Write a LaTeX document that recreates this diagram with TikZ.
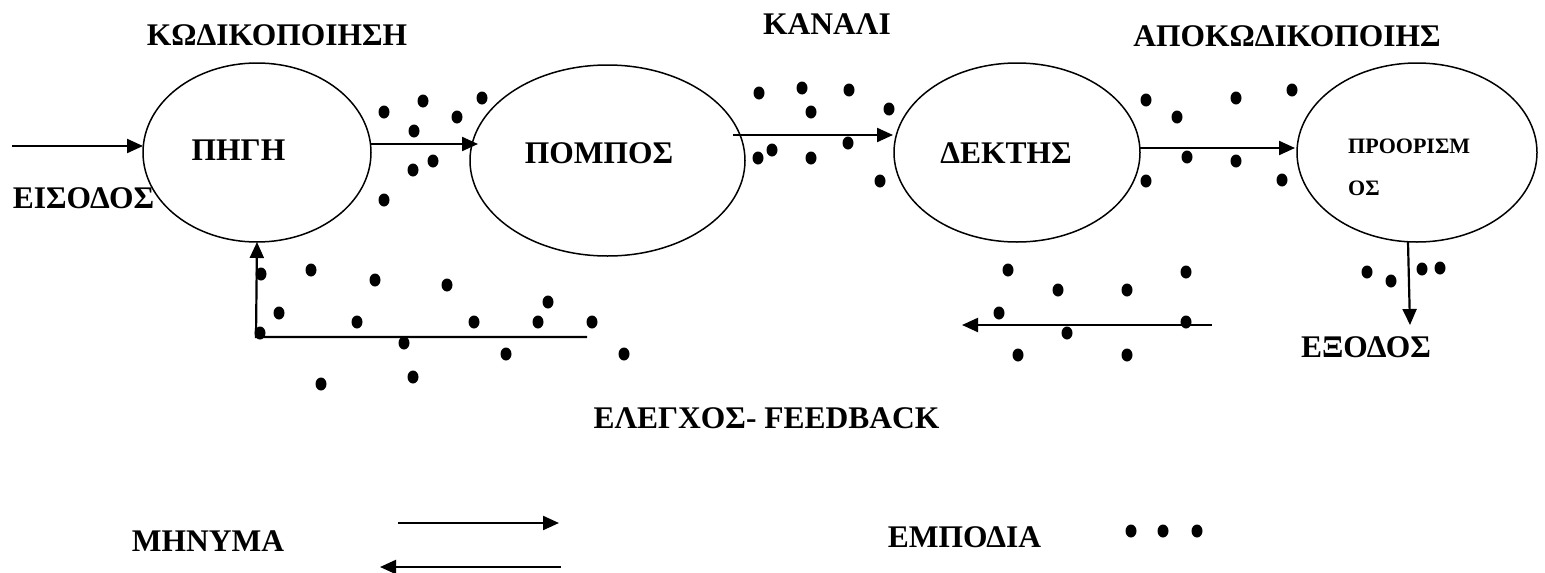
\documentclass[tikz,border=0pt]{standalone}
\usepackage{fontspec}
\setmainfont{Liberation Serif}
\usetikzlibrary{arrows.meta,shapes.geometric}
\tikzset{
  oval/.style={draw, ellipse, line width=1.5pt, inner sep=0pt, outer sep=0pt},
  lbl/.style={font=\bfseries\fontsize{31.5}{31.5}\selectfont, inner sep=0pt, anchor=base},
  small/.style={font=\bfseries\fontsize{22}{22}\selectfont, inner sep=0pt, anchor=base west},
  arr/.style={line width=2.2pt, -{Triangle[length=16pt,width=14pt]}},
  ln/.style={line width=2pt}
}
\newcommand{\noisedot}[1]{\fill (#1) ellipse [x radius=5.5, y radius=6.5];}
\begin{document}
\begin{tikzpicture}[x=1pt,y=-1pt]
\useasboundingbox (0,0) rectangle (1545,573);
% ellipses
\node[oval, minimum width=228pt, minimum height=179pt] (pigi) at (257,152.5) {};
\node[oval, minimum width=275pt, minimum height=191pt] (pompos) at (607.5,160.5) {};
\node[oval, minimum width=246pt, minimum height=179pt] (dektis) at (1017,152.5) {};
\node[oval, minimum width=240pt, minimum height=179pt] (proor) at (1417,152.5) {};
% labels
\node[lbl] (t1) at (277,45) {ΚΩΔΙΚΟΠΟΙΗΣΗ};
\node[lbl] (t2) at (827,34) {ΚΑΝΑΛΙ};
\node[lbl] (t3) at (1287,46) {ΑΠΟΚΩΔΙΚΟΠΟΙΗΣ};
\node[lbl] (t4) at (238.5,160) {ΠΗΓΗ};
\node[lbl] (t5) at (83.5,208) {ΕΙΣΟΔΟΣ};
\node[lbl] (t6) at (599,163) {ΠΟΜΠΟΣ};
\node[lbl] (t7) at (1006,163) {ΔΕΚΤΗΣ};
\node[small] (t8) at (1348,153) {ΠΡΟΟΡΙΣΜ};
\node[small] (t9) at (1348,195) {ΟΣ};
\node[lbl] (t10) at (1366,357) {ΕΞΟΔΟΣ};
\node[lbl] (t11) at (766.5,428) {ΕΛΕΓΧΟΣ- FEEDBACK};
\node[lbl] (t12) at (208,551) {ΜΗΝΥΜΑ};
\node[lbl] (t13) at (964.5,547) {ΕΜΠΟΔΙΑ};
% arrow endpoints
\coordinate (inS) at (12,146);
\coordinate (a1s) at (371,144);
\coordinate (a1e) at (478,144);
\coordinate (a2s) at (733,135);
\coordinate (a2e) at (893,135);
\coordinate (a3s) at (1140,148);
\coordinate (a3e) at (1295,148);
\coordinate (fbS) at (587,337);
\coordinate (fbC) at (256,337);
\coordinate (bkS) at (1212,325);
\coordinate (bkE) at (962,325);
\coordinate (exS) at (1408,242);
\coordinate (exE) at (1410,325);
\coordinate (lg1s) at (398,523);
\coordinate (lg1e) at (559,523);
\coordinate (lg2s) at (561,567);
\coordinate (lg2e) at (380,567);
% arrows
\draw[arr] (inS) -- (inS -| pigi.west);
\draw[arr] (a1s) -- (a1e);
\draw[arr] (a2s) -- (a2e);
\draw[arr] (a3s) -- (a3e);
\draw[arr] (fbS) -- (fbC) -- (pigi.south);
\draw[arr] (bkS) -- (bkE);
\draw[arr] (exS) -- (exE);
\draw[arr] (lg1s) -- (lg1e);
\draw[arr] (lg2s) -- (lg2e);
% noise dots
\foreach \p in {
 {384,112},{423,101},{482,98},{457,117},{414,131},{433,161},{413,170},{384,200},
 {759,93},{802,88},{849,90},{811,112},{889,109},{848,143},{772,150},{758,158},{811,158},{880,181},
 {1146,100},{1177,117},{1236,98},{1292,90},{1187,157},{1236,161},{1146,181},{1282,180},
 {261,274},{311,270},{375,280},{447,285},{279,313},{357,322},{474,322},{260,333},{404,343},{321,384},{413,377},
 {548,302},{538,322},{592,322},{506,354},{624,354},
 {1008,270},{1058,290},{1127,290},{1186,272},{999,313},{1067,333},{1186,322},{1018,355},{1127,355},
 {1367,272},{1391,281},{1422,269},{1440,268},
 {1131,531},{1163,531},{1197,531}}
 {\expandafter\noisedot\expandafter{\p}}
\end{tikzpicture}
\end{document}
